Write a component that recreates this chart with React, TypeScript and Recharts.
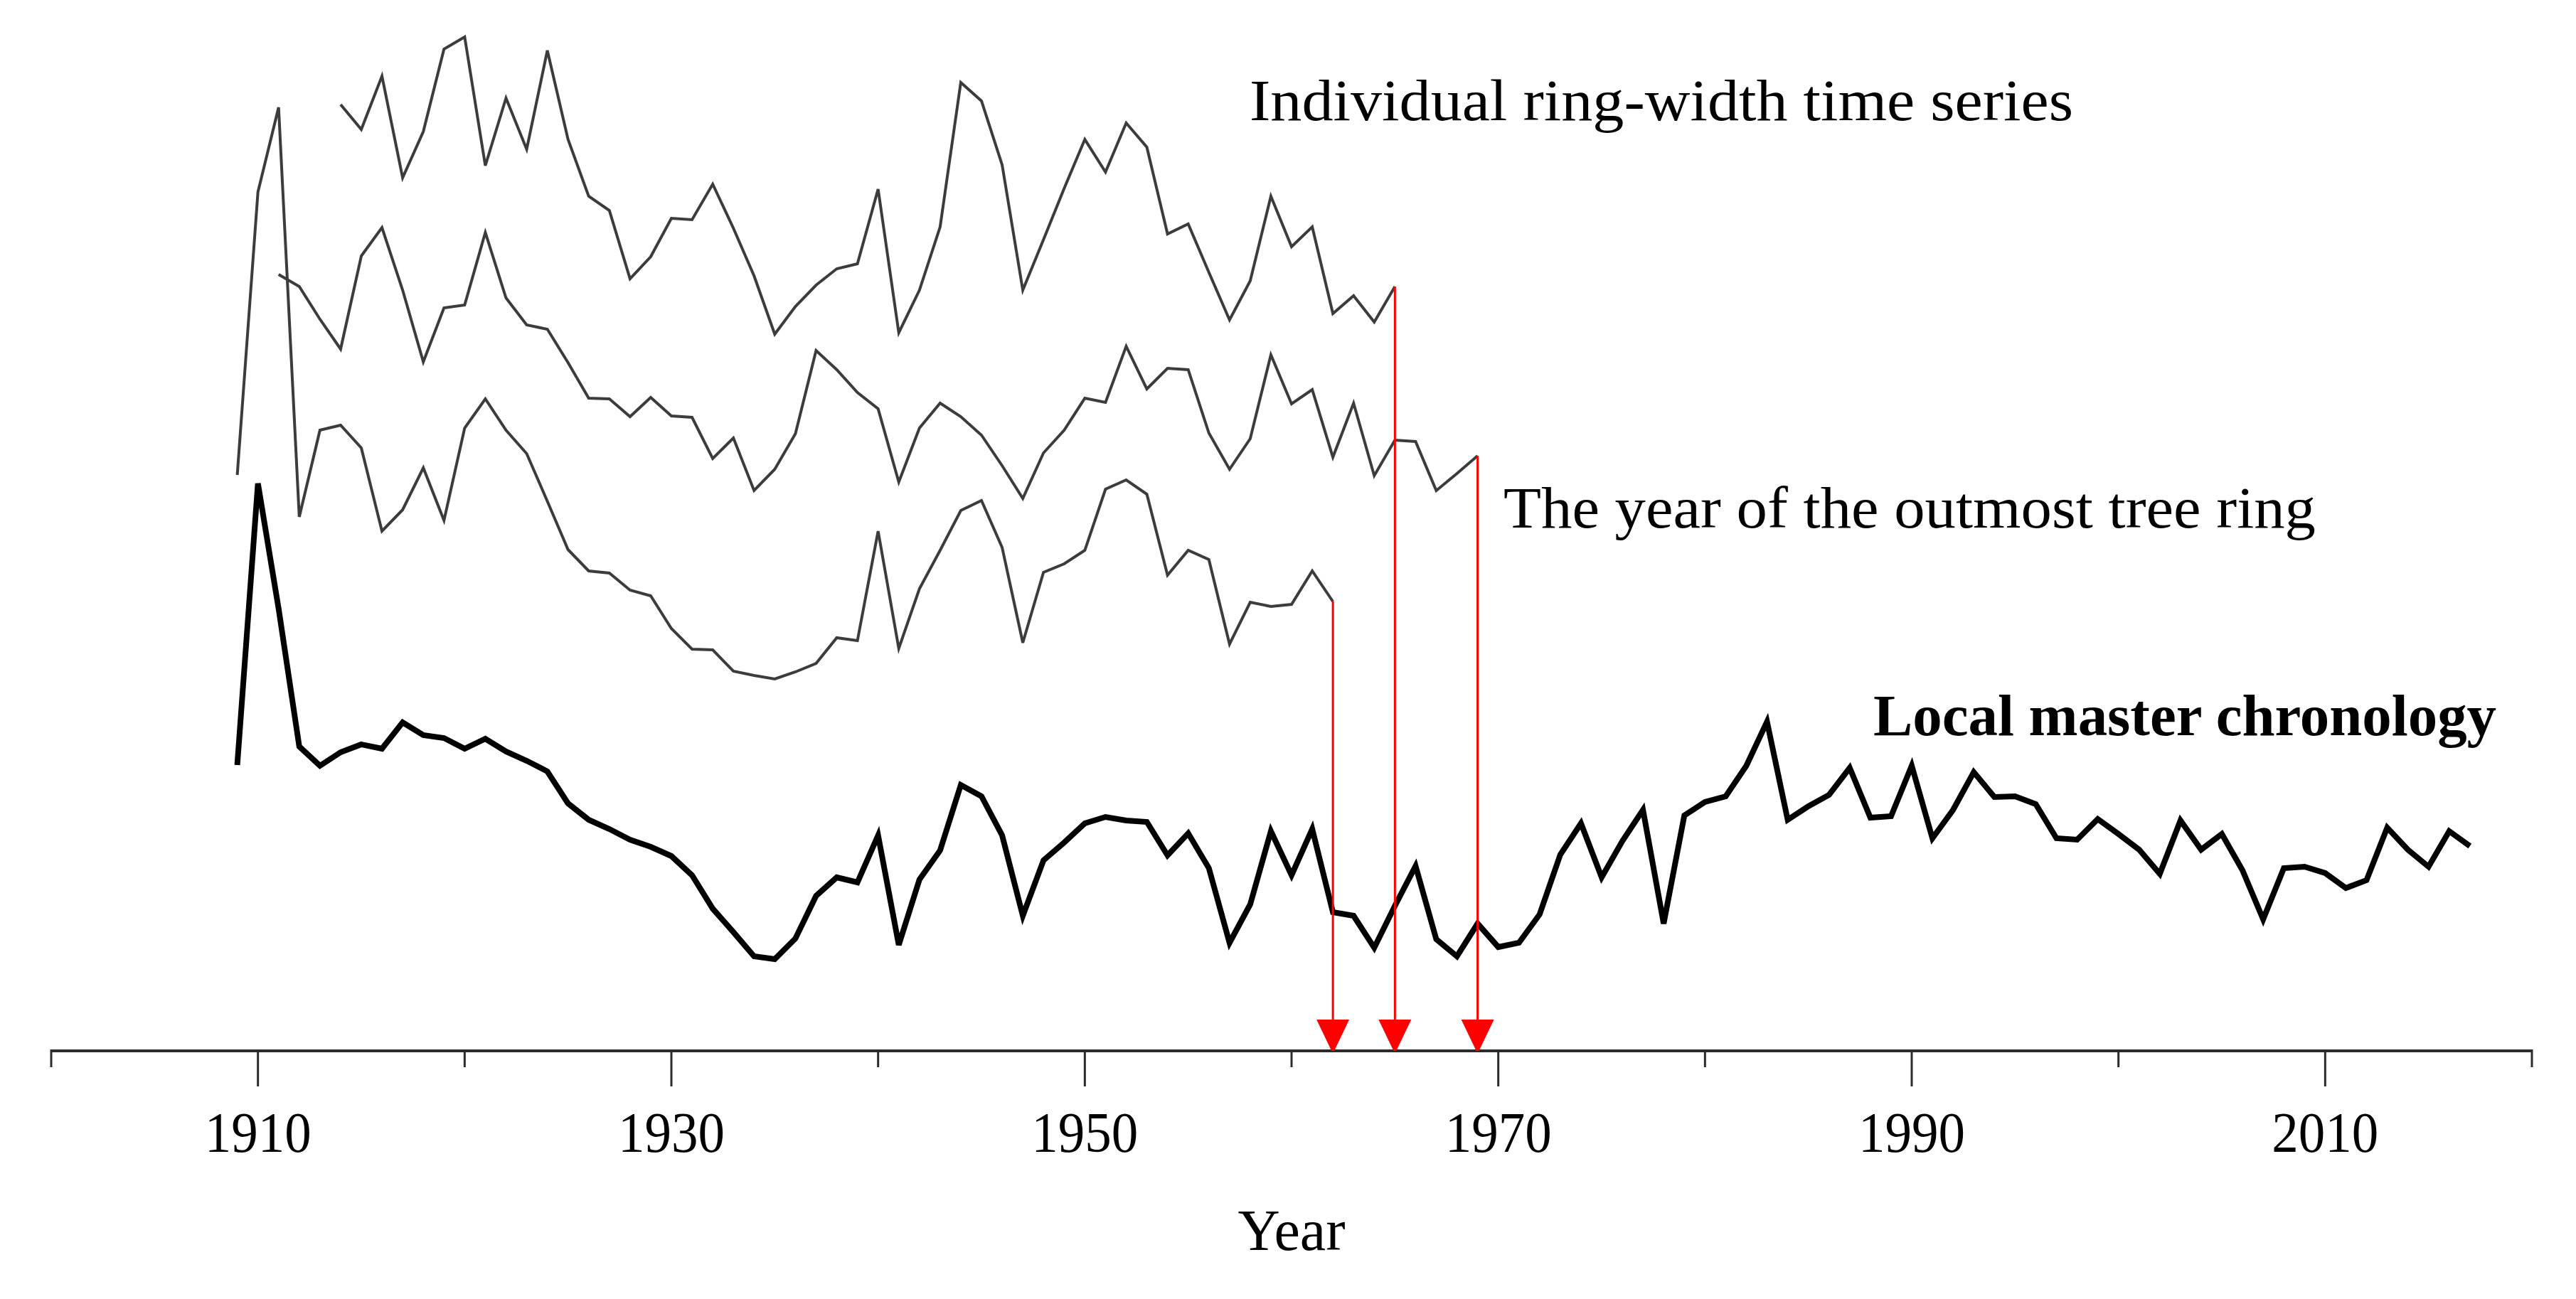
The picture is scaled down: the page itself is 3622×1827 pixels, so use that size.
import { LineChart, Line, XAxis, YAxis, Label, Customized } from "recharts";

// ring-width index values (arbitrary units, stacked offsets)
const years = Array.from({ length: 2017 - 1909 + 1 }, (_, i) => 1909 + i);

const masterStart = 1909;
const master = [
  40.2, 79.8, 62.2, 42.8, 40.1, 42.0, 43.1, 42.5, 46.2, 44.4, // 1909-1918
  44.0, 42.5, 43.9, 42.1, 40.8, 39.3, 34.8, 32.5, 31.2, 29.7, // 1919-1928
  28.7, 27.4, 24.7, 20.0, 16.7, 13.3, 12.9, 15.8, 21.8, 24.4, // 1929-1938
  23.7, 30.3, 14.9, 24.1, 28.2, 37.4, 35.8, 30.3, 19.0, 26.8, // 1939-1948
  29.3, 32.0, 32.9, 32.4, 32.2, 27.5, 30.6, 25.7, 15.2, 20.6, // 1949-1958
  30.9, 24.7, 31.2, 19.5, 19.0, 14.5, 20.4, 26.0, 15.7, 13.3, // 1959-1968
  17.9, 14.6, 15.2, 19.2, 27.6, 32.0, 24.4, 29.5, 33.9, 17.9, // 1969-1978
  33.1, 35.0, 35.8, 40.1, 46.3, 32.5, 34.4, 36.0, 39.8, 32.8, // 1979-1988
  33.0, 40.1, 29.9, 33.9, 39.2, 35.7, 35.8, 34.7, 29.9, 29.7, // 1989-1998
  32.6, 30.5, 28.3, 24.9, 32.4, 28.3, 30.5, 25.4, 18.5, 25.7, // 1999-2008
  25.9, 25.0, 22.9, 24.0, 31.4, 28.3, 25.9, 30.9, 28.8, // 2009-2017
];

const treeAStart = 1914;
const treeA = [
  133.1, 129.6, 137.1, 122.8, 129.3, 140.9, 142.6, 124.5, 134.0, 126.8,
  140.7, 128.2, 120.2, 118.2, 108.6, 111.7, 117.1, 116.9, 121.9, 115.7,
  109.0, 100.8, 104.7, 107.7, 110.0, 110.7, 121.2, 101.0, 107.0, 115.9,
  136.2, 133.6, 124.6, 107.0, 114.1, 121.3, 128.2, 123.6, 130.5, 127.1,
  114.9, 116.3, 109.5, 102.8, 108.3, 120.2, 113.1, 115.9, 103.7, 106.2,
  102.5, 107.5,
];

const treeBStart = 1911;
const treeB = [
  109.2, 107.5, 102.9, 98.7, 111.8, 115.8, 107.0, 96.9, 104.5, 104.9,
  115.1, 105.9, 102.1, 101.5, 96.8, 91.8, 91.7, 89.2, 91.9, 89.3,
  89.1, 83.3, 86.2, 78.8, 81.8, 86.8, 98.5, 95.8, 92.6, 90.3,
  80.0, 87.6, 91.1, 89.2, 86.6, 82.3, 77.7, 84.1, 87.3, 91.8,
  91.2, 99.1, 93.1, 96.0, 95.8, 86.9, 81.8, 86.1, 97.9, 91.0,
  93.0, 83.5, 91.1, 80.9, 85.9, 85.7, 78.8, 81.2, 83.7,
];

const treeCStart = 1909;
const treeC = [
  81.0, 120.8, 132.7, 75.1, 87.3, 88.0, 84.8, 73.1, 76.1, 82.0,
  74.6, 87.6, 91.7, 87.3, 84.0, 77.3, 70.5, 67.5, 67.2, 64.8,
  64.0, 59.4, 56.5, 56.4, 53.4, 52.8, 52.3, 53.3, 54.5, 58.1,
  57.7, 73.1, 56.6, 65.0, 70.4, 76.0, 77.4, 70.8, 57.4, 67.3,
  68.5, 70.4, 79.0, 80.3, 78.3, 66.9, 70.4, 69.1, 57.2, 63.1,
  62.5, 62.8, 67.5, 63.2,
];

const xTicks = [1900, 1910, 1920, 1930, 1940, 1950, 1960, 1970, 1980, 1990, 2000, 2010, 2020];
const labelledTicks = [1910, 1930, 1950, 1970, 1990, 2010];

const pick = (arr: number[], start: number, yr: number) => {
  const v = arr[yr - start];
  return v === undefined ? null : v;
};

const data = years.map((year) => ({
  year,
  master: pick(master, masterStart, year),
  a: pick(treeA, treeAStart, year),
  b: pick(treeB, treeBStart, year),
  c: pick(treeC, treeCStart, year),
}));

// red arrows from the outermost ring of each sample down to the axis
const arrows = [
  { start: treeCStart, arr: treeC },
  { start: treeAStart, arr: treeA },
  { start: treeBStart, arr: treeB },
].map(({ start, arr }) => {
  const end = start + arr.length - 1;
  return [
    { year: end, v: arr[arr.length - 1] },
    { year: end, v: 0 },
  ];
});

const FONT = "'Liberation Serif', 'Times New Roman', serif";

const renderTick = (props: any) => {
  const { x, y, payload } = props;
  const major = labelledTicks.includes(payload.value);
  return (
    <g>
      <line x1={x} x2={x} y1={y - 2} y2={y + (major ? 50 : 23)} stroke="#2b2b2b" strokeWidth={3} />
      {major && (
        <text
          x={x}
          y={y + 142}
          textAnchor="middle"
          fontFamily={FONT}
          fontSize={80}
          fill="#000"
          textLength={150}
          lengthAdjust="spacingAndGlyphs"
        >
          {payload.value}
        </text>
      )}
    </g>
  );
};

const arrowDot = (props: any) => {
  const { cx, cy, index } = props;
  if (index !== 1) return <g key={`n${index}`} />;
  return (
    <polygon
      key={`h${index}`}
      points={`${cx - 23},${cy - 44} ${cx + 23},${cy - 44} ${cx},${cy + 4}`}
      fill="#ff0000"
    />
  );
};

const Annotations = () => (
  <g fontFamily={FONT} fill="#000">
    <text x={1757} y={169} fontSize={82} textLength={1158} lengthAdjust="spacingAndGlyphs">
      Individual ring-width time series
    </text>
    <text x={2114} y={742} fontSize={82} textLength={1142} lengthAdjust="spacingAndGlyphs">
      The year of the outmost tree ring
    </text>
    <text x={2634} y={1034} fontSize={82} fontWeight="bold" textLength={876} lengthAdjust="spacingAndGlyphs">
      Local master chronology
    </text>
  </g>
);

export default function App() {
  return (
    <div style={{ position: "absolute", left: 0, top: 0, background: "#fff" }}>
      <LineChart width={3622} height={1827} data={data} margin={{ top: 0, right: 62, left: 72, bottom: 0 }}>
        <XAxis
          dataKey="year"
          type="number"
          domain={[1900, 2020]}
          ticks={xTicks}
          interval={0}
          height={349}
          tickSize={0}
          tickMargin={0}
          tickLine={false}
          axisLine={{ stroke: "#2b2b2b", strokeWidth: 4 }}
          tick={renderTick}
        >
          <Label
            content={(p: any) => {
              const vb = p.viewBox || {};
              return (
                <text
                  x={vb.x + vb.width / 2}
                  y={vb.y + 280}
                  textAnchor="middle"
                  fontFamily={FONT}
                  fontSize={82}
                  fill="#000"
                >
                  Year
                </text>
              );
            }}
          />
        </XAxis>
        <YAxis hide type="number" domain={[0, 147.8]} allowDataOverflow />
        <Line type="linear" dataKey="a" stroke="#3c3c3c" strokeWidth={4} dot={false} activeDot={false} isAnimationActive={false} />
        <Line type="linear" dataKey="b" stroke="#3c3c3c" strokeWidth={4} dot={false} activeDot={false} isAnimationActive={false} />
        <Line type="linear" dataKey="c" stroke="#3c3c3c" strokeWidth={4} dot={false} activeDot={false} isAnimationActive={false} />
        <Line type="linear" dataKey="master" stroke="#000" strokeWidth={8} dot={false} activeDot={false} isAnimationActive={false} />
        {arrows.map((d, i) => (
          <Line
            key={i}
            data={d}
            dataKey="v"
            type="linear"
            stroke="#ff0000"
            strokeWidth={3}
            dot={arrowDot}
            activeDot={false}
            isAnimationActive={false}
          />
        ))}
        <Customized component={Annotations} />
      </LineChart>
    </div>
  );
}
